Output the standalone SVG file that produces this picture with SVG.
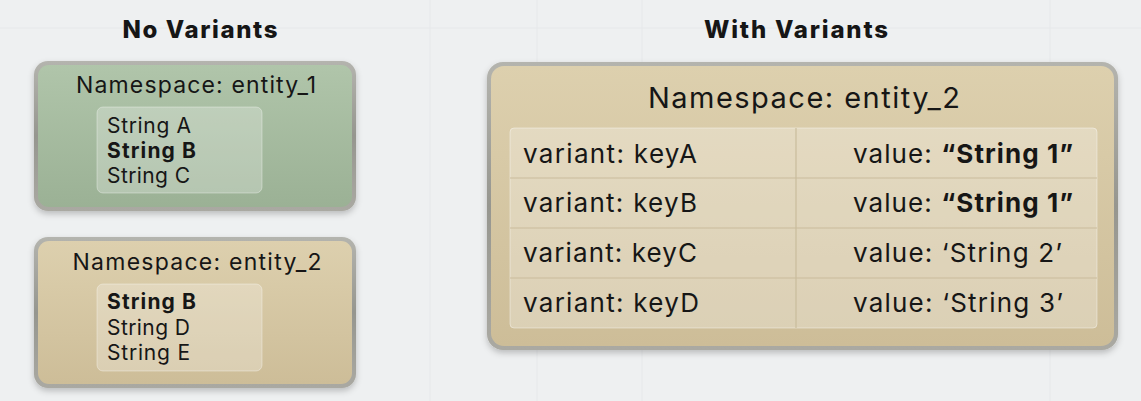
<svg xmlns="http://www.w3.org/2000/svg" width="1141" height="401" viewBox="0 0 1141 401">
<defs>
<linearGradient id="green" x1="0" y1="0" x2="0" y2="1"><stop offset="0" stop-color="#b0c5aa"/><stop offset="1" stop-color="#9bb195"/></linearGradient>
<linearGradient id="tan" x1="0" y1="0" x2="0" y2="1"><stop offset="0" stop-color="#ddd0ae"/><stop offset="1" stop-color="#cdbd98"/></linearGradient>
<linearGradient id="rim" x1="0" y1="0" x2="0" y2="1"><stop offset="0" stop-color="#b4b4ae"/><stop offset="0.5" stop-color="#96968f"/><stop offset="1" stop-color="#aaa9a2"/></linearGradient>
<filter id="sh" x="-10%" y="-10%" width="120%" height="130%"><feDropShadow dx="0" dy="3" stdDeviation="3" flood-color="#000" flood-opacity="0.22"/></filter>
</defs>
<style>
text{font-family:Inter,"Open Sans","Liberation Sans",sans-serif;fill:#161616}
.h{font-size:24px;font-weight:800;text-anchor:middle}
.t{font-size:23px;text-anchor:middle}
.s{font-size:21px}
.b{font-weight:700}
.tt{font-size:29px;text-anchor:middle}
.c{font-size:26px}
.inner{fill:#ffffff;fill-opacity:0.25;stroke:#ffffff;stroke-opacity:0.35}
.grid{stroke:#e6e8ea;stroke-width:1}
</style>
<rect width="1141" height="401" fill="#eef0f1"/>
<g class="grid">
<line x1="0" y1="28" x2="1141" y2="28"/>
<line x1="430" y1="0" x2="430" y2="401"/>
<line x1="537" y1="0" x2="537" y2="401"/>
<line x1="642" y1="0" x2="642" y2="401"/>
<line x1="1050" y1="0" x2="1050" y2="401"/>
</g>
<text class="h" x="200" y="38" textLength="155" lengthAdjust="spacing">No Variants</text>
<text class="h" x="796" y="38" textLength="184" lengthAdjust="spacing">With Variants</text>
<g id="entity1">
<rect x="34" y="61" width="322" height="150" rx="14" fill="url(#rim)" filter="url(#sh)"/>
<rect x="38" y="65" width="314" height="142" rx="11" fill="url(#green)"/>
<text class="t" x="196" y="93" textLength="240" lengthAdjust="spacing">Namespace: entity_1</text>
<rect class="inner" x="97" y="107" width="165" height="86" rx="6"/>
<text class="s" x="107" y="133" textLength="84" lengthAdjust="spacing">String A</text>
<text class="s b" x="107" y="158" textLength="89" lengthAdjust="spacing">String B</text>
<text class="s" x="107" y="183" textLength="83" lengthAdjust="spacing">String C</text>
</g>
<g id="entity2">
<rect x="34" y="237" width="322" height="151" rx="14" fill="url(#rim)" filter="url(#sh)"/>
<rect x="38" y="241" width="314" height="143" rx="11" fill="url(#tan)"/>
<text class="t" x="197" y="270" textLength="249" lengthAdjust="spacing">Namespace: entity_2</text>
<rect class="inner" x="97" y="284" width="165" height="87" rx="6"/>
<text class="s b" x="107" y="309" textLength="89" lengthAdjust="spacing">String B</text>
<text class="s" x="107" y="335" textLength="83" lengthAdjust="spacing">String D</text>
<text class="s" x="107" y="360" textLength="83" lengthAdjust="spacing">String E</text>
</g>
<g id="entity2-variants">
<rect x="487" y="62" width="631" height="288" rx="16" fill="url(#rim)" filter="url(#sh)"/>
<rect x="491" y="66" width="623" height="280" rx="13" fill="url(#tan)"/>
<text class="tt" x="804" y="108" textLength="312" lengthAdjust="spacing">Namespace: entity_2</text>
<rect x="510" y="128" width="587" height="200" rx="4" fill="#ffffff" fill-opacity="0.28" stroke="#ffffff" stroke-opacity="0.4"/>
<g stroke="#c9bc9c" stroke-width="1.2">
<line x1="510" y1="178" x2="1097" y2="178"/>
<line x1="510" y1="228" x2="1097" y2="228"/>
<line x1="510" y1="278" x2="1097" y2="278"/>
<line x1="796" y1="128" x2="796" y2="328"/>
</g>
<text class="c" x="523" y="163" textLength="174" lengthAdjust="spacing">variant: keyA</text>
<text class="c" x="523" y="212" textLength="174" lengthAdjust="spacing">variant: keyB</text>
<text class="c" x="523" y="262" textLength="174" lengthAdjust="spacing">variant: keyC</text>
<text class="c" x="523" y="312" textLength="176" lengthAdjust="spacing">variant: keyD</text>
<text class="c" x="853" y="163" textLength="220" lengthAdjust="spacing">value: <tspan class="b">“String 1”</tspan></text>
<text class="c" x="853" y="212" textLength="220" lengthAdjust="spacing">value: <tspan class="b">“String 1”</tspan></text>
<text class="c" x="853" y="262" textLength="209" lengthAdjust="spacing">value: ‘String 2’</text>
<text class="c" x="853" y="312" textLength="210" lengthAdjust="spacing">value: ‘String 3’</text>
</g>
</svg>
